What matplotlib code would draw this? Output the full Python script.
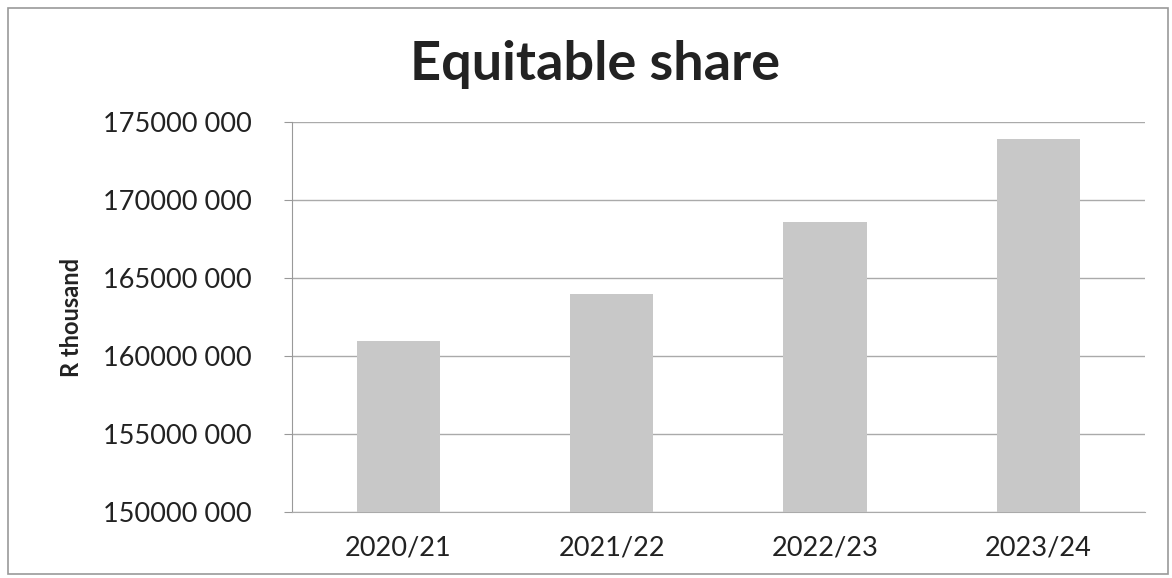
import matplotlib
matplotlib.use("Agg")
import matplotlib.pyplot as plt
from matplotlib.patches import Rectangle

categories = ["2020/21", "2021/22", "2022/23", "2023/24"]
values = [160_980_000, 163_970_000, 168_600_000, 173_900_000]
yticks = [150_000_000, 155_000_000, 160_000_000, 165_000_000, 170_000_000, 175_000_000]
ytick_labels = ["150000 000", "155000 000", "160000 000", "165000 000", "170000 000", "175000 000"]

plt.rcParams['font.family'] = ['Lato', 'DejaVu Sans']

fig = plt.figure(figsize=(11.72, 5.78), dpi=100)
ax = fig.add_axes([0.249, 0.114, 0.728, 0.675])

x = range(len(categories))
ax.bar(x, values, width=0.39, color="#c8c8c8", zorder=3)
ax.set_xlim(-0.5, len(categories) - 0.5)
ax.set_ylim(yticks[0], yticks[-1])
ax.set_yticks(yticks)
ax.set_yticklabels(ytick_labels, fontsize=19.5, color="#222222")
ax.set_xticks(list(x))
ax.set_xticklabels(categories, fontsize=19.5, color="#222222")
ax.tick_params(axis='y', length=6, color="#999999", pad=23)
ax.tick_params(axis='x', length=0, pad=17)
ax.yaxis.grid(True, color="#aaaaaa", linewidth=1.0, zorder=0)
for s in ["top", "right"]:
    ax.spines[s].set_visible(False)
ax.spines["left"].set_color("#999999")
ax.spines["bottom"].set_color("#aaaaaa")
ax.set_ylabel("R thousand", fontsize=17, fontweight="bold", labelpad=14, color="#222222")

fig.text(0.508, 0.889, "Equitable share", ha="center", va="center",
         fontsize=39, fontweight="bold", color="#222222")

fig.patches.append(Rectangle((0.007, 0.007), 0.99, 0.98, transform=fig.transFigure,
                             fill=False, edgecolor="#999999", linewidth=1.2))

fig.savefig("out.png", dpi=100)
